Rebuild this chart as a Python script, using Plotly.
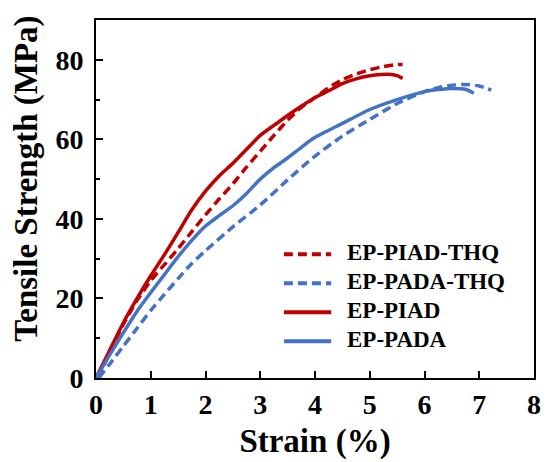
import plotly.graph_objects as go

# Stress-strain curves (strain in %, tensile stress in MPa)
piad_thq_x = [0.05, 0.25, 0.5, 0.75, 1.0, 1.25, 1.5, 1.75, 2.0, 2.25, 2.5, 2.75, 3.0,
              3.25, 3.5, 3.75, 4.0, 4.25, 4.5, 4.75, 5.0, 5.25, 5.5, 5.6]
piad_thq_y = [0, 6.5, 13.5, 19.5, 24.5, 28.5, 32.5, 36.8, 41, 45, 48.8, 53, 57,
              61, 64.8, 68, 70.5, 73, 75, 76.4, 77.5, 78.3, 78.8, 78.8]

pada_thq_x = [0.05, 0.25, 0.5, 0.75, 1.0, 1.25, 1.5, 1.75, 2.0, 2.5, 3.0, 3.5, 4.0,
              4.5, 5.0, 5.5, 6.0, 6.25, 6.5, 6.75, 7.0, 7.22]
pada_thq_y = [0, 3.5, 8, 12.5, 17, 21, 25, 28.8, 32, 38, 43.5, 49.8, 55.8,
              60.8, 65, 69, 72, 73, 73.6, 73.8, 73.4, 72.4]

piad_x = [0, 0.25, 0.5, 0.75, 1.0, 1.25, 1.5, 1.75, 2.0, 2.25, 2.5, 2.75, 3.0, 3.25,
          3.5, 3.75, 4.0, 4.25, 4.5, 4.75, 5.0, 5.2, 5.4, 5.5, 5.6]
piad_y = [0, 7, 13.9, 20, 25.7, 31, 36.6, 42.3, 47, 50.8, 54, 57.5, 61, 63.5,
          66, 68.3, 70.5, 72.2, 74, 75.2, 76, 76.3, 76.3, 76, 75.3]

pada_x = [0, 0.25, 0.5, 0.75, 1.0, 1.25, 1.5, 1.75, 2.0, 2.25, 2.5, 2.75, 3.0, 3.25,
          3.5, 3.75, 4.0, 4.5, 5.0, 5.5, 6.0, 6.25, 6.5, 6.75, 6.9]
pada_y = [0, 5.8, 11.4, 16.8, 21.5, 26, 30.5, 34.6, 38.2, 40.8, 43.3, 46.4, 50, 52.9,
          55.3, 58, 60.5, 64, 67.5, 70, 72, 72.5, 72.8, 72.6, 71.6]

x_ticks = [0, 1, 2, 3, 4, 5, 6, 7, 8]
y_ticks = [0, 20, 40, 60, 80]

RED = "#C00000"
BLUE = "#4472C4"
FONT = "Liberation Serif"
DASH = "9px,5px"

fig = go.Figure()
series = [
    ("EP-PIAD-THQ", piad_thq_x, piad_thq_y, RED, DASH),
    ("EP-PADA-THQ", pada_thq_x, pada_thq_y, BLUE, DASH),
    ("EP-PIAD", piad_x, piad_y, RED, "solid"),
    ("EP-PADA", pada_x, pada_y, BLUE, "solid"),
]
for name, xs, ys, color, dash in series:
    fig.add_trace(go.Scatter(
        x=xs, y=ys, name=name, mode="lines", showlegend=False,
        line=dict(color=color, width=3.5, dash=dash, shape="spline", smoothing=0.6),
    ))

# Legend block inside the plot area (paper coordinates)
leg_top = 0.346
leg_step = 0.081
for i, (name, _, _, color, dash) in enumerate(series):
    yy = leg_top - i * leg_step
    fig.add_shape(type="line", xref="paper", yref="paper",
                  x0=0.429, x1=0.537, y0=yy, y1=yy,
                  line=dict(color=color, width=4, dash=dash))
    fig.add_annotation(xref="paper", yref="paper", x=0.568, y=yy + 0.004,
                       xanchor="left", yanchor="middle", showarrow=False,
                       text=name,
                       font=dict(family=FONT, size=23, color="black", weight="bold"))

axis_common = dict(
    showline=True, linecolor="black", linewidth=2, mirror=True,
    ticks="inside", ticklen=7, tickwidth=2, tickcolor="black",
    showgrid=False, zeroline=False,
    tickfont=dict(family=FONT, size=28, color="black", weight="bold"),
)

# Y-axis title
fig.add_annotation(xref="paper", yref="paper", x=-0.158, y=0.556,
                   xanchor="center", yanchor="middle", showarrow=False,
                   textangle=-90, text="Tensile Strength (MPa)",
                   font=dict(family=FONT, size=33, color="black", weight="bold"))

fig.update_layout(
    width=550, height=462,
    margin=dict(l=96, r=9, t=20, b=84),
    paper_bgcolor="white", plot_bgcolor="white",
    font=dict(family=FONT, color="black"),
    xaxis=dict(
        **axis_common, range=[0, 8], tickvals=x_ticks,
        title=dict(text="Strain (%)", standoff=10,
                   font=dict(family=FONT, size=33, color="black", weight="bold")),
    ),
    yaxis=dict(
        **axis_common, range=[0, 90], tickvals=y_ticks, ticklabelstandoff=5,
        minor=dict(tickvals=[10, 30, 50, 70], ticks="inside", ticklen=4,
                   tickwidth=2, tickcolor="black"),
    ),
    showlegend=False,
)

fig.write_html("out.html")
